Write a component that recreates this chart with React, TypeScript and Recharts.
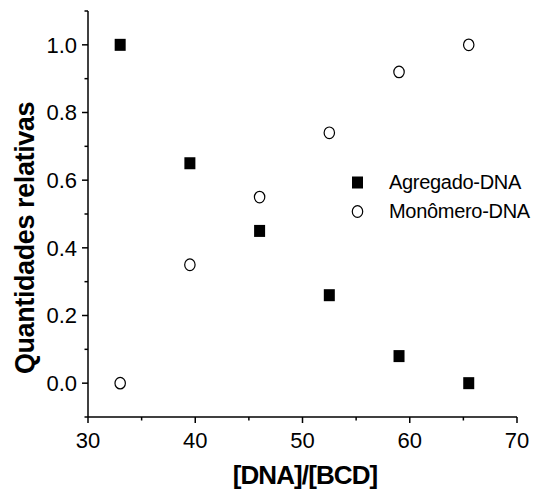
import { ScatterChart, Scatter, XAxis, YAxis } from "recharts";

const ratio = [33, 39.5, 46, 52.5, 59, 65.5];
const agregado = [1.0, 0.65, 0.45, 0.26, 0.08, 0.0];
const monomero = [0.0, 0.35, 0.55, 0.74, 0.92, 1.0];

const xTicks = [30, 35, 40, 45, 50, 55, 60, 65, 70];
const yTicks = [-0.1, 0, 0.1, 0.2, 0.3, 0.4, 0.5, 0.6, 0.7, 0.8, 0.9, 1.0, 1.1];

const FONT = "'Liberation Sans', Arial, sans-serif";

const agregadoData = ratio.map((r, i) => ({ x: r, y: agregado[i] }));
const monomeroData = ratio.map((r, i) => ({ x: r, y: monomero[i] }));

const Square = ({ cx, cy }: any) => (
    <rect x={cx - 5.5} y={cy - 6} width={11} height={12} fill="#000" />
);

const Ring = ({ cx, cy }: any) => (
    <ellipse cx={cx} cy={cy} rx={5.2} ry={5.8} fill="#fff" stroke="#000" strokeWidth={1.2} />
);

// tickSize 6 + tickMargin 5 on the y axis
const YTick = ({ x, y, payload }: any) => {
    const v = payload.value;
    const major = Math.round(v * 10) % 2 === 0;
    const axisX = x + 11;
    const showLabel = major && v >= 0 && v <= 1.0001;
    return (
        <g>
            <line x1={axisX - (major ? 6 : 3.5)} x2={axisX} y1={y} y2={y} stroke="#000" strokeWidth={1.5} />
            {showLabel && (
                <text x={x} y={y} dy="0.355em" textAnchor="end" fontSize={22} fontFamily={FONT} fill="#000">
                    {v.toFixed(1)}
                </text>
            )}
        </g>
    );
};

// tickSize 6 + tickMargin 9 on the x axis
const XTick = ({ x, y, payload }: any) => {
    const v = payload.value;
    const major = v % 10 === 0;
    const axisY = y - 15;
    return (
        <g>
            <line x1={x} x2={x} y1={axisY} y2={axisY + (major ? 6 : 3.5)} stroke="#000" strokeWidth={1.5} />
            {major && (
                <text x={x} y={y} dy="0.71em" textAnchor="middle" fontSize={22} fontFamily={FONT} fill="#000">
                    {v}
                </text>
            )}
        </g>
    );
};

const LegendBox = () => (
    <div style={{ position: "absolute", left: 350, top: 168, fontFamily: FONT, fontSize: 20, color: "#000", lineHeight: "29px" }}>
        <div style={{ display: "flex", alignItems: "center" }}>
            <svg width={39} height={29}>
                <rect x={2} y={8.5} width={11} height={12} fill="#000" />
            </svg>
            <span style={{ letterSpacing: -0.3 }}>Agregado-DNA</span>
        </div>
        <div style={{ display: "flex", alignItems: "center" }}>
            <svg width={39} height={29}>
                <ellipse cx={7.5} cy={14.5} rx={5.2} ry={5.8} fill="#fff" stroke="#000" strokeWidth={1.2} />
            </svg>
            <span style={{ letterSpacing: -0.3 }}>Monômero-DNA</span>
        </div>
    </div>
);

export default function App() {
    return (
        <div style={{ position: "absolute", left: 0, top: 0, width: 542, height: 496, background: "#fff" }}>
            <ScatterChart width={542} height={496} margin={{ top: 11, right: 25, left: 0, bottom: 0 }}>
                <XAxis
                    type="number"
                    dataKey="x"
                    domain={[30, 70]}
                    ticks={xTicks}
                    interval={0}
                    height={79}
                    tickSize={6}
                    tickMargin={9}
                    tickLine={false}
                    axisLine={{ stroke: "#000", strokeWidth: 1.5 }}
                    tick={<XTick />}
                    allowDataOverflow
                />
                <YAxis
                    type="number"
                    dataKey="y"
                    domain={[-0.1, 1.1]}
                    ticks={yTicks}
                    interval={0}
                    width={88}
                    tickSize={6}
                    tickMargin={5}
                    tickLine={false}
                    axisLine={{ stroke: "#000", strokeWidth: 1.5 }}
                    tick={<YTick />}
                    allowDataOverflow
                />
                <Scatter name="Agregado-DNA" data={agregadoData} shape={<Square />} isAnimationActive={false} />
                <Scatter name="Monômero-DNA" data={monomeroData} shape={<Ring />} isAnimationActive={false} />
                <text x={305} y={484} textAnchor="middle" fontSize={26} fontWeight="bold" fontFamily={FONT} letterSpacing={-0.9} fill="#000">
                    [DNA]/[BCD]
                </text>
                <text
                    x={34}
                    y={238}
                    transform="rotate(-90 34 238)"
                    textAnchor="middle"
                    fontSize={27}
                    fontWeight="bold"
                    fontFamily={FONT}
                    letterSpacing={-0.4}
                    fill="#000"
                >
                    Quantidades relativas
                </text>
            </ScatterChart>
            <LegendBox />
        </div>
    );
}
